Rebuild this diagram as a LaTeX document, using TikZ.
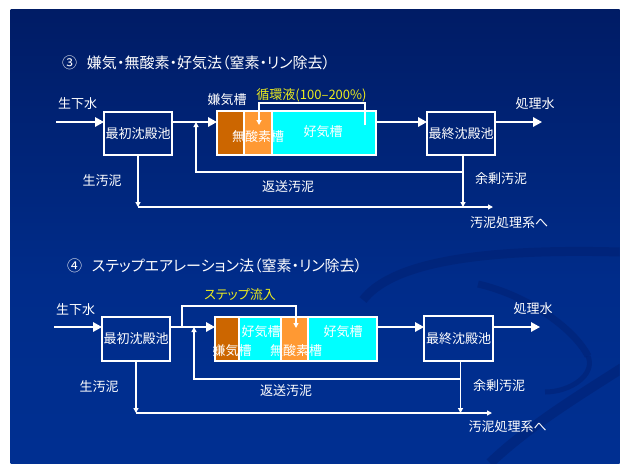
\documentclass[tikz,border=0pt]{standalone}
\usepackage{fontspec}
\newfontfamily\jp{Noto Sans CJK JP}
\newfontfamily\jpp[RawFeature=+palt]{Noto Sans CJK JP}
\usetikzlibrary{arrows.meta}
\definecolor{dorange}{RGB}{204,102,0}
\definecolor{lorange}{RGB}{255,153,51}
\definecolor{cyanc}{RGB}{0,255,255}
\definecolor{ylw}{RGB}{235,235,30}
\definecolor{bgA}{RGB}{0,5,30}
\definecolor{bgB}{RGB}{0,25,95}
\definecolor{bgC}{RGB}{0,44,138}
\definecolor{bgD}{RGB}{0,52,155}
\definecolor{swirl}{RGB}{0,30,110}
\pgfdeclareverticalshading{bgsh}{100bp}{color(0bp)=(bgD); color(45bp)=(bgC); color(80bp)=(bgB); color(100bp)=(bgA)}
\begin{document}
\begin{tikzpicture}[x=1pt,y=-1pt,
  every node/.style={inner sep=0pt,outer sep=0pt},
  lbl/.style={text=white,font=\jp\fontsize{13}{13}\selectfont},
  ylbl/.style={text=ylw,font=\jpp\fontsize{13}{13}\selectfont},
  ttl/.style={text=white,font=\jpp\fontsize{15}{15}\selectfont,anchor=west},
  box/.style={draw=white,line width=1.5pt,minimum width=68pt,minimum height=43pt,
    text=white,font=\jp\fontsize{13}{13}\selectfont},
  seg/.style={draw=white,line width=1.2pt},
  big/.style={draw=white,line width=1.6pt,-{Triangle[length=9pt,width=9.5pt]}},
  small/.style={draw=white,line width=1.6pt,-{Triangle[length=5pt,width=5pt]}}]
\useasboundingbox (0,0) rectangle (623,463);
\fill[white] (0,0) rectangle (623,463);
\shade[shading=bgsh] (10.5,9) rectangle (619.5,463);
% faint swirls
\begin{scope}[opacity=0.45]
\clip (10.5,9) rectangle (619.5,463);
\draw[swirl,line width=9pt] (363,300) .. controls (390,265) and (470,248) .. (620,252);
\draw[swirl,line width=7pt] (478,284) .. controls (530,296) and (575,330) .. (588,356);
\draw[swirl,line width=5pt] (588,356) .. controls (596,375) and (570,392) .. (545,392);
\draw[swirl,line width=10pt] (622,368) .. controls (580,395) and (530,425) .. (490,463);
\end{scope}

% ===== Section 3 =====
\node[ttl] (t3) at (62,63) {③\hspace{10pt}嫌気・無酸素・好気法（窒素・リン除去）};
\node[box] (pc3) at (138,133.5) {最初沈殿池};
\node[box] (fc3) at (461,133.5) {最終沈殿池};
\node[seg,fill=dorange,minimum width=27pt,minimum height=44pt] (a3) at (230.5,133) {};
\node[seg,fill=lorange,minimum width=28pt,minimum height=44pt] (b3) at (258,133) {};
\node[seg,fill=cyanc,minimum width=104pt,minimum height=44pt] (c3) at (324,133) {};
\node[lbl] (l3a) at (258,137) {無酸素槽};
\node[lbl] (l3b) at (323,132) {好気槽};
\node[lbl] (l3c) at (227,100) {嫌気槽};
\node[ylbl] (l3d) at (311.5,95) {循環液(100–200\%)};
\node[lbl] (l3e) at (77.5,104) {生下水};
\node[lbl] (l3f) at (535,104) {処理水};
\node[lbl] (l3g) at (501,179) {余剰汚泥};
\node[lbl] (l3h) at (509,223) {汚泥処理系へ};
\node[lbl] (l3i) at (102,181) {生汚泥};
\node[lbl] (l3j) at (288,187) {返送汚泥};
\coordinate (in3) at (56,122);
\coordinate (out3) at (542,122);
\coordinate (ret3) at (196,172);
\coordinate (sink3) at (493,207);
\coordinate (rs3) at (365,125);
\coordinate (rt3) at (259,103);
\draw[big] (in3) -- (in3 -| pc3.west);
\draw[big] (in3 -| pc3.east) -- (in3 -| a3.west);
\draw[big] (in3 -| c3.east) -- (in3 -| fc3.west);
\draw[big] (in3 -| fc3.east) -- (out3);
\draw[small] ([xshift=2pt]fc3.south) -- ([xshift=2pt]fc3.south |- sink3);
\draw[small] ([xshift=2pt]fc3.south |- ret3) -- (ret3) -- (ret3 |- in3);
\draw[small] (pc3.south) -- (pc3.south |- sink3);
\draw[small] (pc3.south |- sink3) -- (sink3);
\draw[small] (rs3) |- (rt3) -- (rt3 |- rs3);

% ===== Section 4 =====
\node[ttl] (t4) at (67,266) {④\hspace{10pt}ステップエアレーション法（窒素・リン除去）};
\node[box,minimum height=44pt] (pc4) at (136,339) {最初沈殿池};
\node[box,minimum width=69pt,minimum height=45pt] (fc4) at (458.5,338.5) {最終沈殿池};
\node[seg,fill=dorange,minimum width=24pt,minimum height=44pt] (a4) at (227,339) {};
\node[seg,fill=cyanc,minimum width=42pt,minimum height=44pt] (b4) at (260,339) {};
\node[seg,fill=lorange,minimum width=27pt,minimum height=44pt] (c4) at (294.5,339) {};
\node[seg,fill=cyanc,minimum width=69pt,minimum height=44pt] (d4) at (342.5,339) {};
\node[lbl] (l4a) at (261,332) {好気槽};
\node[lbl] (l4b) at (343,332) {好気槽};
\node[lbl] (l4c) at (232,351) {嫌気槽};
\node[lbl] (l4d) at (296,351) {無酸素槽};
\node[ylbl] (l4e) at (240,295) {ステップ流入};
\node[lbl] (l4f) at (75.5,310) {生下水};
\node[lbl] (l4g) at (533,309) {処理水};
\node[lbl] (l4h) at (499,386) {余剰汚泥};
\node[lbl] (l4i) at (507.5,427) {汚泥処理系へ};
\node[lbl] (l4j) at (99,387) {生汚泥};
\node[lbl] (l4k) at (286,391) {返送汚泥};
\coordinate (in4) at (54,327);
\coordinate (out4) at (540,327);
\coordinate (ret4) at (194,379);
\coordinate (sink4) at (492,413);
\coordinate (sj4) at (182,327);
\coordinate (st4) at (296,306);
\coordinate (se4) at (296,328);
\draw[big] (in4) -- (in4 -| pc4.west);
\draw[big] (in4 -| pc4.east) -- (in4 -| a4.west);
\draw[big] (in4 -| d4.east) -- (in4 -| fc4.west);
\draw[big] (in4 -| fc4.east) -- (out4);
\draw[small] ([xshift=2pt]fc4.south) -- ([xshift=2pt]fc4.south |- sink4);
\draw[small] ([xshift=2pt]fc4.south |- ret4) -- (ret4) -- (ret4 |- in4);
\draw[small] (pc4.south) -- (pc4.south |- sink4);
\draw[small] (pc4.south |- sink4) -- (sink4);
\draw[small] (sj4) |- (st4) -- (se4);
\end{tikzpicture}
\end{document}
